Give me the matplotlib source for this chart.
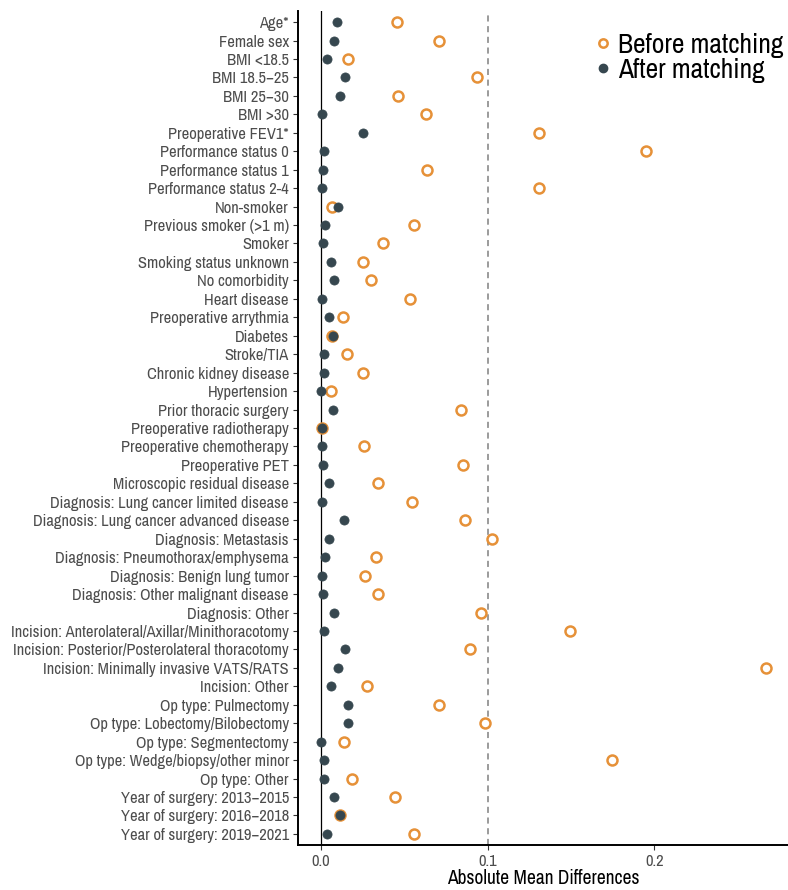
import matplotlib
matplotlib.use("Agg")
import matplotlib.pyplot as plt
from matplotlib import font_manager
from matplotlib.lines import Line2D

names = sorted({f.name for f in font_manager.fontManager.ttflist})
cond = [n for n in names if "Narrow" in n or "Condensed" in n]
fam = cond[0] if cond else "Roboto"
plt.rcParams['font.family'] = [fam, 'Roboto', 'DejaVu Sans']

variables = [
    "Age*", "Female sex", "BMI <18.5", "BMI 18.5\u221225", "BMI 25\u221230", "BMI >30",
    "Preoperative FEV1*", "Performance status 0", "Performance status 1",
    "Performance status 2-4", "Non-smoker", "Previous smoker (>1 m)", "Smoker",
    "Smoking status unknown", "No comorbidity", "Heart disease",
    "Preoperative arrythmia", "Diabetes", "Stroke/TIA", "Chronic kidney disease",
    "Hypertension", "Prior thoracic surgery", "Preoperative radiotherapy",
    "Preoperative chemotherapy", "Preoperative PET", "Microscopic residual disease",
    "Diagnosis: Lung cancer limited disease", "Diagnosis: Lung cancer advanced disease",
    "Diagnosis: Metastasis", "Diagnosis: Pneumothorax/emphysema",
    "Diagnosis: Benign lung tumor", "Diagnosis: Other malignant disease",
    "Diagnosis: Other", "Incision: Anterolateral/Axillar/Minithoracotomy",
    "Incision: Posterior/Posterolateral thoracotomy",
    "Incision: Minimally invasive VATS/RATS", "Incision: Other",
    "Op type: Pulmectomy", "Op type: Lobectomy/Bilobectomy", "Op type: Segmentectomy",
    "Op type: Wedge/biopsy/other minor", "Op type: Other",
    "Year of surgery: 2013\u22122015", "Year of surgery: 2016\u22122018",
    "Year of surgery: 2019\u22122021",
]

before_matching = [
    0.046, 0.0708, 0.0162, 0.0934, 0.0462, 0.063, 0.131, 0.1948, 0.0636, 0.1308,
    0.007, 0.0558, 0.0376, 0.0254, 0.0304, 0.0536, 0.0134, 0.0066, 0.0158, 0.0254,
    0.006, 0.0842, 0.0006, 0.0262, 0.0854, 0.0344, 0.0548, 0.0866, 0.1026, 0.033,
    0.0268, 0.0344, 0.0962, 0.1492, 0.0896, 0.267, 0.028, 0.071, 0.0984, 0.0138,
    0.1746, 0.019, 0.0444, 0.0116, 0.056,
]

after_matching = [
    0.010, 0.008, 0.004, 0.0146, 0.0114, 0.0006, 0.0254, 0.0022, 0.0014, 0.0006,
    0.0106, 0.0028, 0.0016, 0.006, 0.0078, 0.001, 0.0048, 0.0076, 0.002, 0.002,
    0.0, 0.0072, 0.001, 0.0008, 0.0014, 0.005, 0.0008, 0.0142, 0.005, 0.0024,
    0.001, 0.0012, 0.0078, 0.0018, 0.0148, 0.0106, 0.006, 0.0166, 0.0162, 0.0,
    0.0018, 0.0022, 0.0078, 0.0118, 0.004,
]

x_ticks = [0.0, 0.1, 0.2]
x_tick_labels = ["0.0", "0.1", "0.2"]
threshold = 0.1

ORANGE = "#E69138"
DARK = "#36474F"
GREY_TXT = "#4D4D4D"

n = len(variables)
ypos = [n - 1 - i for i in range(n)]

fig = plt.figure(figsize=(7.88, 8.90), dpi=100)
ax = fig.add_axes([298 / 788, 1 - 845 / 890, 1 - 298 / 788, (845 - 11) / 890])

ax.axvline(0, color="black", lw=0.9, zorder=1)
ax.axvline(threshold, color="#808080", lw=1.1, ls=(0, (4, 3)), zorder=1)

ax.plot(before_matching, ypos, ls="none", marker="o", ms=7.2, mfc="white",
        mec=ORANGE, mew=1.8, zorder=3)
ax.plot(after_matching, ypos, ls="none", marker="o", ms=6.6, mfc=DARK,
        mec=DARK, mew=0.5, zorder=4)

ax.set_xlim(-0.0136, 0.280)
ax.set_ylim(-0.6, n - 1 + 0.6)
ax.set_yticks(ypos)
ax.set_yticklabels(variables, fontsize=11.9, color=GREY_TXT)
ax.set_xticks(x_ticks)
ax.set_xticklabels(x_tick_labels, fontsize=11.9, color=GREY_TXT)
ax.tick_params(axis="both", length=3.5, width=0.8, color="#333333", pad=3)
ax.set_xlabel("Absolute Mean Differences", fontsize=14, color="black", labelpad=0)

for s in ["top", "right"]:
    ax.spines[s].set_visible(False)
for s in ["left", "bottom"]:
    ax.spines[s].set_linewidth(1.4)
    ax.spines[s].set_color("black")

handles = [
    Line2D([], [], ls="none", marker="o", ms=6, mfc="white", mec=ORANGE, mew=1.8),
    Line2D([], [], ls="none", marker="o", ms=6, mfc=DARK, mec=DARK),
]
ax.legend(handles, ["Before matching", "After matching"], loc="upper right",
          bbox_to_anchor=(1.013, 0.987), frameon=False, fontsize=19.8,
          handletextpad=0.15, labelspacing=0.0, borderaxespad=0.0,
          handlelength=0.8)

fig.savefig("out.png", dpi=100)
